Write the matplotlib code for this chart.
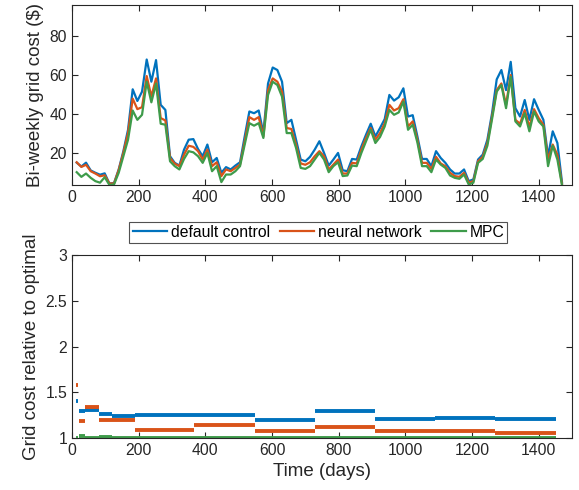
import numpy as np
import matplotlib
matplotlib.use("Agg")
import matplotlib.pyplot as plt

plt.rcParams["font.family"] = ["Liberation Sans", "DejaVu Sans"]

# bi-weekly grid cost ($), one value every 14 days
days = np.arange(14, 1471, 14)
cost_default = [15.0, 13.0, 15.0, 11.0, 9.8, 8.8, 9.5, 4.3, 4.5, 11.5,
                20.9, 31.9, 52.7, 46.7, 51.5, 68.0, 56.6, 67.7, 44.7, 42.1,
                18.3, 14.9, 13.5, 21.7, 26.8, 27.1, 22.0, 18.3, 24.3, 15.2,
                17.4, 9.8, 12.7, 11.5, 13.5, 15.2, 28.5, 41.3, 40.4, 41.8,
                30.2, 55.7, 63.9, 62.6, 56.6, 35.3, 37.0, 26.8, 16.6, 15.7,
                18.0, 21.7, 26.0, 20.0, 13.5, 16.6, 20.0, 11.1, 10.6, 16.9,
                16.6, 23.4, 29.4, 35.0, 28.5, 32.8, 37.4, 49.8, 46.9, 48.6,
                53.2, 38.7, 39.4, 28.5, 16.9, 16.9, 13.2, 20.9, 17.4, 14.9,
                11.5, 9.4, 9.4, 11.5, 5.5, 6.4, 16.6, 19.1, 26.8, 40.4,
                57.8, 62.6, 52.3, 66.8, 43.0, 38.7, 47.2, 37.0, 47.6, 42.1,
                37.0, 18.3, 31.1, 25.1, 4.7]
cost_nn = [15.2, 12.8, 13.9, 10.6, 9.4, 8.0, 8.5, 4.3, 4.3, 11.2,
           20.0, 30.2, 47.9, 42.5, 43.5, 59.5, 49.0, 58.3, 37.9, 36.7,
           17.4, 14.5, 13.2, 19.1, 23.7, 23.1, 20.9, 16.6, 21.7, 13.2,
           15.2, 8.1, 11.5, 10.6, 12.3, 14.0, 26.0, 38.4, 37.0, 38.4,
           28.5, 52.3, 58.3, 56.6, 51.5, 32.8, 32.3, 24.3, 14.6, 13.9,
           15.2, 18.3, 20.9, 18.3, 11.5, 14.0, 16.6, 9.4, 9.4, 14.9,
           14.6, 21.7, 27.7, 32.8, 26.8, 30.2, 35.3, 44.7, 41.8, 43.0,
           47.6, 33.6, 36.2, 26.8, 14.9, 14.9, 11.8, 18.0, 14.6, 13.2,
           9.8, 8.1, 7.7, 9.8, 4.7, 5.5, 15.7, 18.0, 25.1, 38.7,
           52.3, 55.7, 44.7, 60.0, 37.0, 35.0, 42.1, 33.3, 42.5, 37.9,
           34.5, 16.6, 24.3, 19.1, 3.8]
cost_mpc = [10.1, 7.7, 9.4, 7.2, 5.5, 4.7, 7.5, 3.6, 3.8, 9.8,
            18.3, 26.8, 41.8, 37.0, 39.6, 56.6, 46.0, 55.7, 35.0, 34.5,
            15.7, 13.2, 11.5, 16.9, 20.9, 20.3, 18.3, 14.9, 20.0, 10.6,
            13.2, 5.0, 8.9, 8.9, 10.6, 13.2, 24.3, 35.3, 34.0, 35.3,
            27.7, 49.8, 56.6, 54.9, 48.9, 30.2, 30.2, 22.6, 12.3, 11.8,
            13.2, 16.6, 20.0, 16.6, 10.1, 13.2, 15.2, 8.1, 8.4, 13.5,
            13.2, 20.0, 26.0, 31.9, 25.1, 28.2, 33.6, 42.1, 39.6, 40.8,
            46.4, 31.9, 34.5, 25.4, 13.2, 13.2, 10.1, 16.6, 14.0, 12.3,
            8.4, 7.2, 6.7, 8.9, 3.8, 4.7, 14.9, 16.9, 23.7, 37.4,
            51.5, 54.9, 43.0, 59.1, 36.2, 33.6, 40.4, 31.1, 41.3, 36.2,
            33.6, 13.2, 23.7, 16.6, 3.3]

# grid cost relative to optimal, piecewise constant over intervals (days)
seg_start = [11, 22, 40, 80, 120, 190, 365, 550, 730, 910, 1090, 1270]
seg_end = [19, 40, 80, 120, 190, 365, 550, 730, 910, 1090, 1270, 1452]
ratio_default = [1.40, 1.29, 1.31, 1.265, 1.24, 1.25, 1.25, 1.20, 1.295, 1.21, 1.22, 1.21]
ratio_nn = [1.58, 1.185, 1.34, 1.20, 1.195, 1.09, 1.145, 1.075, 1.125, 1.08, 1.08, 1.05]
ratio_mpc = [1.0, 1.025, 1.005, 1.01, 1.005, 1.005, 1.005, 1.005, 1.005, 1.005, 1.005, 1.005]

labels = ["default control", "neural network", "MPC"]
colors = ["#0072BD", "#D95319", "#3E9B4A"]


def style_axes(ax):
    ax.tick_params(direction="in", length=4, width=0.8, top=True, right=True,
                   labelsize=11.3, colors="#262626")
    for sp in ax.spines.values():
        sp.set_color("#262626")
        sp.set_linewidth(0.8)


fig = plt.figure(figsize=(5.79, 4.90), dpi=100)
ax1 = fig.add_axes([0.1244, 0.6224, 0.8636, 0.3673])
ax2 = fig.add_axes([0.1244, 0.1061, 0.8636, 0.3735])

lines = []
for vals, lab, c in zip([cost_default, cost_nn, cost_mpc], labels, colors):
    ln, = ax1.plot(days, vals, color=c, linewidth=1.6, label=lab)
    lines.append(ln)
ax1.set_xlim(0, 1500)
ax1.set_ylim(3.5, 96)
ax1.set_yticks([20, 40, 60, 80])
ax1.set_xticks(range(0, 1401, 200))
ax1.set_ylabel("Bi-weekly grid cost ($)", fontsize=13.5, color="#262626")
style_axes(ax1)

for vals, c in zip([ratio_default, ratio_nn, ratio_mpc], colors):
    ax2.hlines(vals, seg_start, seg_end, colors=c, linewidth=2.8)
ax2.set_xlim(0, 1500)
ax2.set_ylim(1, 3)
ax2.set_yticks([1, 1.5, 2, 2.5, 3])
ax2.set_yticklabels(["1", "1.5", "2", "2.5", "3"])
ax2.set_xticks(range(0, 1401, 200))
ax2.set_xlabel("Time (days)", fontsize=13.5, color="#262626")
ax2.set_ylabel("Grid cost relative to optimal", fontsize=13.5, color="#262626")
style_axes(ax2)

leg = fig.legend(handles=lines, loc="center", bbox_to_anchor=(0.550, 0.526),
                 ncol=3, fontsize=11.3, frameon=True, fancybox=False,
                 handlelength=2.2, handletextpad=0.25, columnspacing=0.6,
                 borderpad=0.2, borderaxespad=0)
leg.get_frame().set_edgecolor("#262626")
leg.get_frame().set_linewidth(0.8)

fig.savefig("out.png", dpi=100)
